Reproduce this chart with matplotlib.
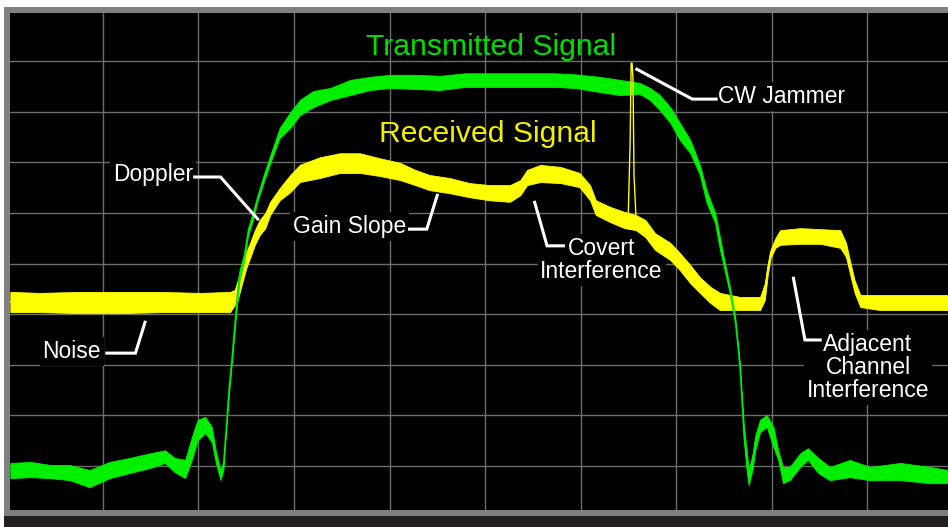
import matplotlib.pyplot as plt
from matplotlib.patches import Rectangle

# spectrum trace, x in divisions (1 div per graticule column), y in dB (10 dB/div, 0 at top)
# each trace is kept as an upper and lower edge of the noise band

green_f = [0.03, 0.24, 0.45, 0.65, 0.86, 1.07, 1.28, 1.49, 1.65, 1.75, 1.86, 1.93, 1.99, 2.07, 2.14,
           2.18, 2.23, 2.26, 2.29, 2.32, 2.35, 2.39, 2.43, 2.48, 2.52, 2.57, 2.62, 2.69, 2.77, 2.85,
           2.96, 3.06, 3.20, 3.38, 3.59, 3.80, 4.01, 4.27, 4.53, 4.79, 5.00, 5.26, 5.47, 5.73, 5.94,
           6.20, 6.41, 6.62, 6.73, 6.83, 6.94, 7.04, 7.15, 7.25, 7.32, 7.41, 7.46, 7.51, 7.57, 7.62,
           7.65, 7.67, 7.69, 7.71, 7.74, 7.76, 7.80, 7.83, 7.88, 7.95, 8.02, 8.07, 8.12, 8.19, 8.30,
           8.38, 8.49, 8.61, 8.82, 9.03, 9.35, 9.66, 9.85]
green_hi = [-89.4, -89.2, -89.8, -89.8, -90.8, -89.2, -88.4, -87.5, -86.9, -88.4, -88.8, -84.3, -80.9, -80.3, -82.3,
            -86.9, -90.8, -89.2, -81.9, -74.0, -68.1, -59.2, -51.3, -47.9, -43.0, -39.8, -36.5, -32.1, -27.6, -23.2,
            -20.1, -17.7, -15.9, -15.3, -13.7, -13.1, -12.7, -12.7, -12.9, -12.4, -12.4, -12.4, -12.4, -12.4, -12.6,
            -13.1, -13.7, -14.3, -15.3, -16.7, -19.1, -22.2, -25.6, -30.5, -35.5, -40.0, -44.8, -49.7, -55.2, -60.6,
            -66.1, -70.1, -76.0, -81.9, -86.9, -90.8, -87.8, -83.9, -80.9, -79.9, -82.3, -86.9, -90.2, -90.2, -87.5,
            -86.5, -88.4, -90.2, -88.8, -90.2, -89.4, -90.2, -90.8]
green_lo = [-92.4, -92.2, -92.4, -92.8, -94.2, -92.4, -91.4, -90.4, -89.4, -91.2, -92.4, -88.8, -84.9, -83.5, -85.3,
            -89.2, -92.8, -90.8, -82.9, -75.4, -69.5, -60.8, -53.3, -49.3, -44.4, -41.4, -37.5, -33.5, -29.2, -25.2,
            -23.2, -20.7, -19.1, -17.7, -16.7, -15.7, -15.3, -15.5, -15.7, -15.1, -15.1, -15.1, -15.1, -15.1, -15.3,
            -16.1, -16.7, -16.5, -17.7, -19.7, -22.2, -25.6, -28.2, -32.5, -38.0, -42.0, -47.3, -51.3, -56.4, -61.8,
            -67.1, -71.4, -77.9, -84.9, -90.8, -93.8, -90.8, -86.9, -83.3, -82.3, -86.3, -88.8, -93.4, -92.8, -90.2,
            -88.8, -91.4, -92.8, -92.2, -92.8, -92.8, -93.4, -93.4]

yellow_f = [0.03, 0.34, 0.76, 1.18, 1.60, 2.02, 2.33, 2.38, 2.41, 2.46, 2.50, 2.54, 2.59, 2.64, 2.70,
            2.75, 2.85, 2.96, 3.06, 3.27, 3.48, 3.69, 3.90, 4.11, 4.27, 4.42, 4.63, 4.84, 5.05, 5.26,
            5.37, 5.44, 5.58, 5.79, 5.99, 6.10, 6.16, 6.31, 6.46, 6.58, 6.68, 6.78, 6.94, 7.04, 7.15,
            7.25, 7.36, 7.46, 7.67, 7.88, 7.93, 7.96, 7.99, 8.04, 8.09, 8.30, 8.51, 8.72, 8.78, 8.82,
            8.87, 8.93, 9.14, 9.45, 9.85]
yellow_hi = [-55.6, -55.8, -55.6, -55.6, -55.6, -55.8, -55.6, -55.2, -53.3, -49.7, -47.7, -45.9, -43.4, -41.4, -40.0,
             -37.8, -35.1, -32.5, -30.5, -29.0, -28.2, -28.2, -29.2, -30.1, -31.5, -32.5, -33.1, -34.1, -34.5, -34.5,
             -33.5, -31.5, -30.5, -30.9, -32.1, -34.5, -37.5, -38.8, -39.8, -40.4, -41.4, -44.0, -45.9, -47.9, -50.3,
             -52.7, -54.6, -55.8, -56.6, -56.6, -53.9, -50.3, -47.3, -45.0, -43.4, -43.0, -43.2, -43.4, -45.9, -49.3,
             -53.3, -56.2, -56.2, -56.2, -56.2]
yellow_lo = [-59.6, -59.6, -59.8, -59.8, -59.6, -59.6, -59.6, -58.2, -57.2, -53.7, -50.9, -48.9, -46.3, -44.4, -43.0,
             -40.4, -37.5, -35.9, -33.9, -33.1, -32.1, -32.1, -32.7, -33.5, -34.5, -35.5, -36.1, -36.9, -37.5, -37.8,
             -36.5, -34.5, -33.9, -34.1, -34.9, -37.5, -40.4, -41.8, -43.0, -43.4, -44.8, -47.3, -49.3, -51.3, -53.9,
             -55.8, -57.8, -59.2, -59.2, -59.2, -57.2, -52.3, -48.9, -46.9, -46.3, -46.1, -46.1, -46.9, -48.7, -51.9,
             -55.8, -58.6, -59.2, -59.2, -59.2]

# narrow CW jammer on the received trace
jam_f = [6.50, 6.52, 6.53, 6.54, 6.55, 6.56, 6.58]
jam_db = [-40.4, -25.6, -10.4, -10.4, -13.7, -32.5, -40.4]

# labels: text, x, y(baseline), leader line points
labels = [
    ("CW Jammer", 7.44, -18.3, "left", [6.59, 7.17, 7.42], [-11.6, -17.5, -17.5]),
    ("Doppler", 1.94, -33.7, "right", [1.96, 2.23, 2.62], [-32.9, -32.9, -41.2]),
    ("Gain Slope", 2.99, -44.0, "left", [4.21, 4.39, 4.50], [-43.2, -43.2, -36.5]),
    ("Covert\nInterference", 6.22, -52.9, "center", [5.52, 5.65, 5.82], [-37.9, -46.5, -46.5]),
    ("Noise", 0.98, -68.7, "right", [1.04, 1.34, 1.44], [-67.7, -67.7, -61.6]),
    ("Adjacent\nChannel\nInterference", 9.01, -76.4, "center", [8.23, 8.35, 8.51], [-52.9, -65.1, -65.1]),
]

W, H = 948, 527
fig = plt.figure(figsize=(W / 100, H / 100), dpi=100, facecolor="white")

# instrument frame around the screen
fig.patches.append(Rectangle((4 / W, 11 / H), 944 / W, 509 / H, transform=fig.transFigure,
                             facecolor="#808080", edgecolor="none", zorder=-2))
fig.patches.append(Rectangle((4 / W, 0), 944 / W, 11 / H, transform=fig.transFigure,
                             facecolor="#231f20", edgecolor="none", zorder=-2))

ax = fig.add_axes([9.5 / W, 17 / H, 938.5 / W, 497.3 / H])
ax.set_zorder(1)
ax.set_facecolor("black")
for s in ax.spines.values():
    s.set_visible(False)
ax.set_xlim(0.021, 9.848)
ax.set_ylim(-98.7, -0.43)
ax.set_xticks([])
ax.set_yticks([])

# graticule
for k in range(1, 10):
    ax.axvline(k, color="#6c6c6c", lw=1.0, zorder=1)
    ax.axhline(-10 * k, color="#6c6c6c", lw=1.0, zorder=1)

ymid = [(a + b) / 2 for a, b in zip(yellow_hi, yellow_lo)]
gmid = [(a + b) / 2 for a, b in zip(green_hi, green_lo)]

ax.plot(yellow_f, ymid, color="#e6e600", lw=1.2, zorder=3)
ax.fill_between(yellow_f, yellow_lo, yellow_hi, color="#ffff00", lw=0.6, zorder=3.1)

ax.plot(green_f, gmid, color="#0a9a0a", lw=1.2, zorder=4)
ax.fill_between(green_f, green_lo, green_hi, color="#00f000", lw=0.6, zorder=4.1)

ax.plot(jam_f, jam_db, color="#ffff00", lw=1.0, zorder=5)

ax.text(5.06, -8.8, "Transmitted Signal", color="#00e000", fontsize=21.7,
        family="Liberation Sans", ha="center", va="baseline", zorder=6)
ax.text(5.03, -26.0, "Received Signal", color="#f0f000", fontsize=21.7,
        family="Liberation Sans", ha="center", va="baseline", zorder=6)

# label boxes hide the graticule but sit under the traces; leaders go on top
for txt, tx, ty, ha, lx, ly in labels:
    ax.text(tx, ty, txt, color="white", fontsize=16.5, family="Liberation Sans",
            ha=ha, va="baseline", multialignment="center", linespacing=1.0,
            bbox=dict(facecolor="black", edgecolor="none", pad=2), zorder=2.5)
    ax.plot(lx, ly, color="white", lw=2.2, solid_joinstyle="miter", zorder=6)

fig.savefig("out.png", dpi=100, facecolor=fig.get_facecolor())
